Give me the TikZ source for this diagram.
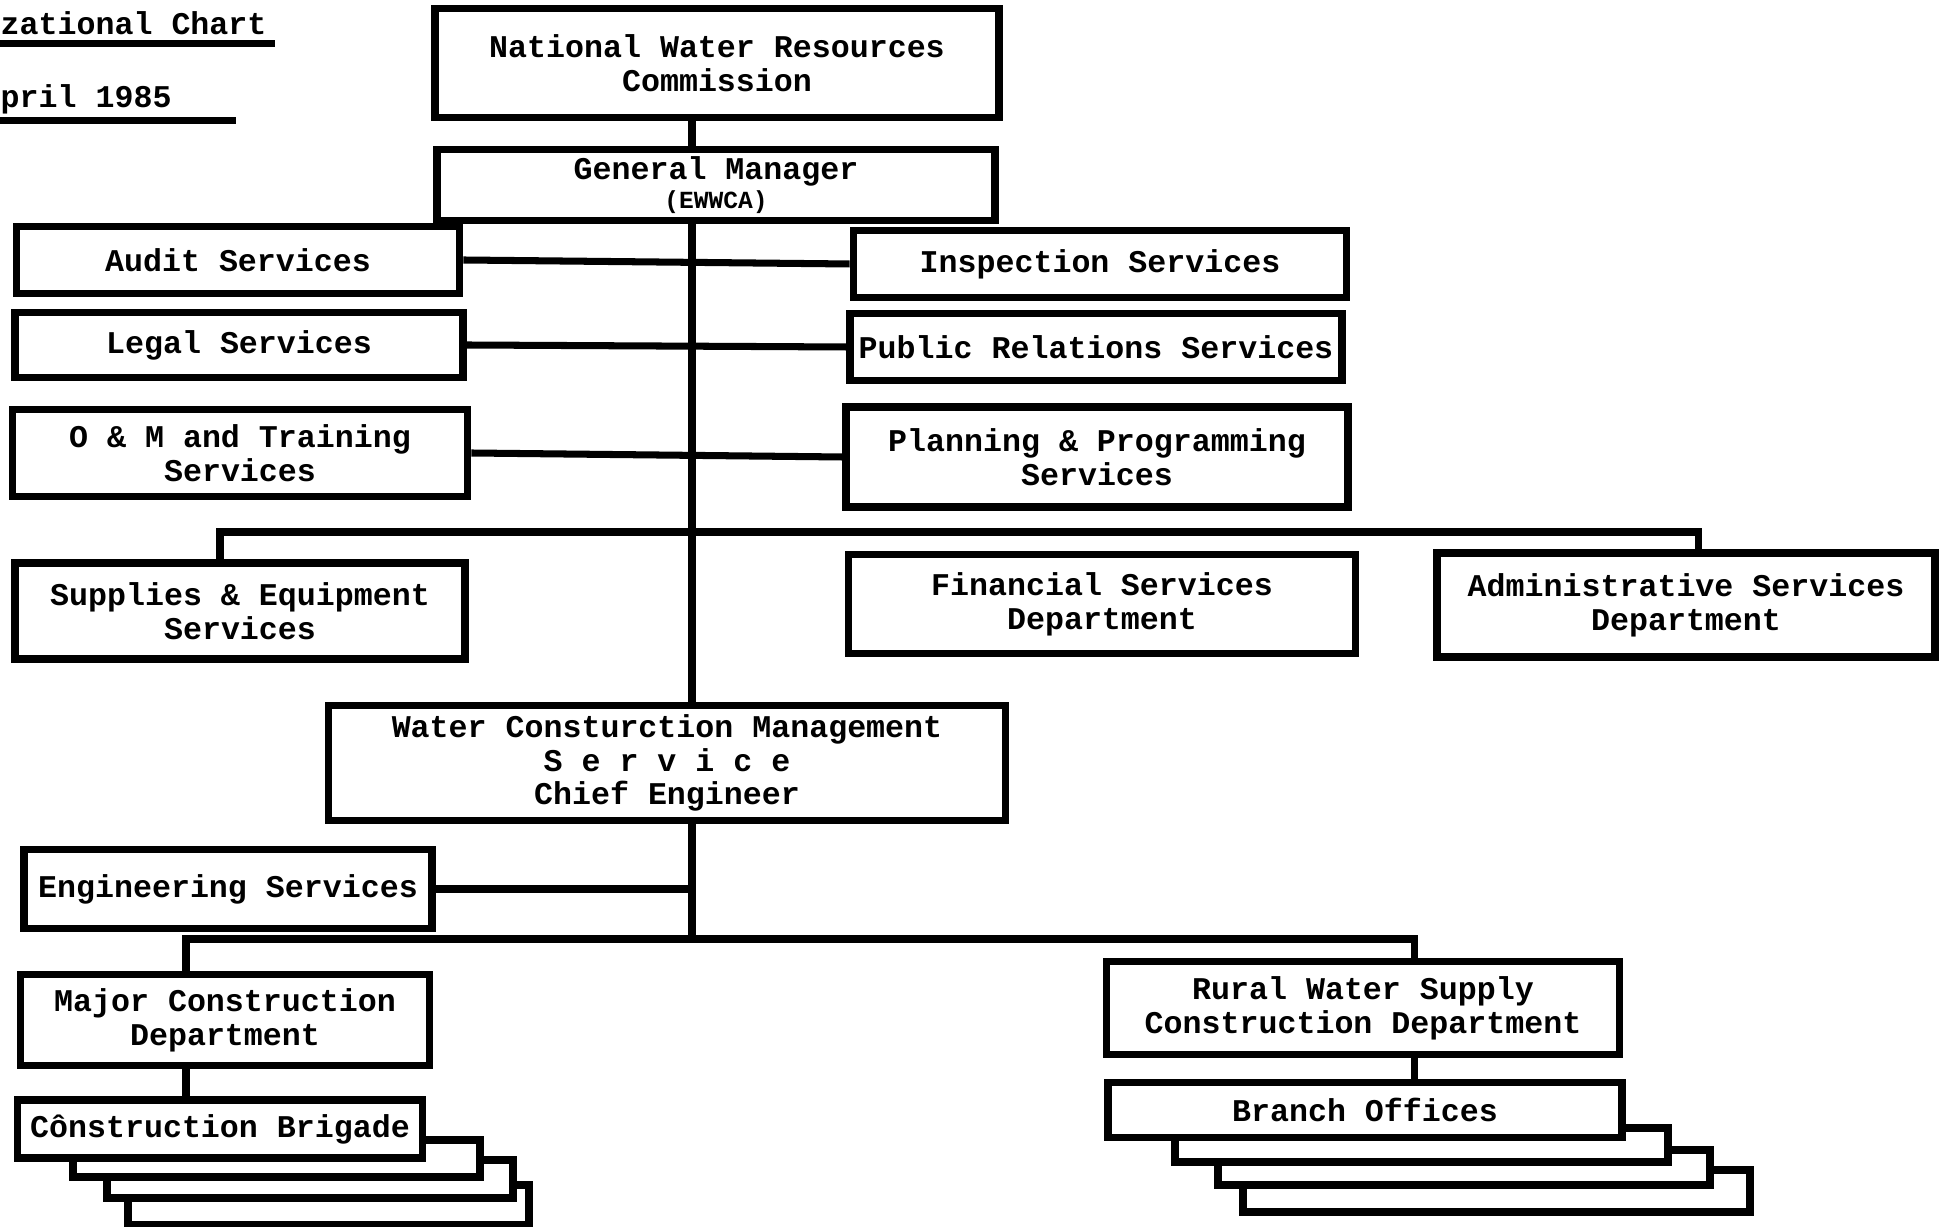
\documentclass[tikz,border=0pt]{standalone}
\usepackage{fontspec}
\setmainfont{Liberation Mono}
\tikzstyle{box}=[%
	draw, line width=2.2pt, fill=white, inner sep=0, align=center,
	font=\bfseries\fontsize{9}{9.6}\selectfont
]
\tikzstyle{wire}=[line width=2pt]
\tikzstyle{sheet}=[draw, line width=2.2pt, fill=white]

\begin{document}
\begin{tikzpicture}[x=0.1mm, y=-0.1mm]
	\useasboundingbox (0,0) rectangle (1950,1227);

	% heading, cut off at the left edge
	\node[anchor=base west, inner sep=0, font=\bfseries\fontsize{9}{9.6}\selectfont] (ttl) at (0,35) {zational Chart};
	\node[anchor=base west, inner sep=0, font=\bfseries\fontsize{9}{9.6}\selectfont] (dte) at (0,108) {pril 1985};
	\coordinate (u1) at (275,44);
	\coordinate (u2) at (236,121);
	\draw[wire] (ttl.west |- u1) -- (u1);
	\draw[wire] (dte.west |- u2) -- (u2);

	\node[box, minimum width=56.4mm, minimum height=10.9mm] (nwrc) at (717,63) {National Water Resources\\Commission};
	\node[box, minimum width=55.8mm, minimum height=7.1mm] (gm) at (716,185) {General Manager\\[-1.5pt]{\fontsize{7}{7}\selectfont(EWWCA)}};

	\node[box, minimum width=44.3mm, minimum height=6.7mm] (audit) at (238,260) {Audit Services};
	\node[box, minimum width=49.3mm, minimum height=6.7mm] (insp) at (1100,264) {Inspection Services};
	\node[box, minimum width=44.8mm, minimum height=6.5mm] (legal) at (239,345) {Legal Services};
	\node[box, minimum width=49.2mm, minimum height=6.7mm] (pr) at (1096,347) {Public Relations Services};
	\node[box, minimum width=45.5mm, minimum height=8.7mm] (om) at (240,453) {O \& M and Training\\Services};
	\node[box, minimum width=50.2mm, minimum height=10mm] (plan) at (1097,457) {Planning \& Programming\\Services};

	\node[box, minimum width=45mm, minimum height=9.6mm] (supp) at (240,611) {Supplies \& Equipment\\Services};
	\node[box, minimum width=50.7mm, minimum height=9.9mm] (fin) at (1102,604) {Financial Services\\Department};
	\node[box, minimum width=49.8mm, minimum height=10.4mm] (admin) at (1686,605) {Administrative Services\\Department};

	\node[box, minimum width=67.7mm, minimum height=11.5mm] (wc) at (667,763) {Water Consturction Management\\S e r v i c e\\Chief Engineer};
	\node[box, minimum width=40.8mm, minimum height=7.9mm] (eng) at (228,889) {Engineering Services};

	\node[box, minimum width=40.9mm, minimum height=9.1mm] (mcd) at (225,1020) {Major Construction\\Department};
	\node[box, minimum width=51.3mm, minimum height=9.3mm] (rws) at (1363,1008) {Rural Water Supply\\Construction Department};

	% stacked sheets behind the brigades and offices
	\draw[sheet] (128,1185) rectangle (529,1225);
	\draw[sheet] (107,1160) rectangle (513,1198);
	\draw[sheet] (73,1140) rectangle (480,1177);
	\node[box, minimum width=40.5mm, minimum height=5.8mm] (cb) at (220,1129) {Cônstruction Brigade};

	\draw[sheet] (1243,1170) rectangle (1750,1212);
	\draw[sheet] (1218,1150) rectangle (1710,1185);
	\draw[sheet] (1175,1128) rectangle (1668,1162);
	\node[box, minimum width=51.4mm, minimum height=5.5mm] (bo) at (1365,1110) {Branch Offices};

	% spine
	\coordinate (sp) at (692,220);
	\draw[wire] (nwrc.south -| sp) -- (gm.north -| sp);
	\draw[wire] (gm.south -| sp) -- (wc.north -| sp);

	\draw[wire] (audit.east) -- (insp.west);
	\draw[wire] (legal.east) -- (pr.west);
	\draw[wire] (om.east) -- (plan.west);

	\coordinate (busL) at (220,532);
	\coordinate (busR) at (1698,532);
	\draw[wire] (supp.north -| busL) -- (busL) -- (busR) -- (admin.north -| busR);

	\coordinate (lbL) at (186,939);
	\coordinate (lbR) at (1414,939);
	\draw[wire] (wc.south -| sp) -- (lbL -| sp);
	\draw[wire] (eng.east) -- (eng.east -| sp);
	\draw[wire] (mcd.north -| lbL) -- (lbL) -- (lbR) -- (rws.north -| lbR);
	\draw[wire] (mcd.south -| lbL) -- (cb.north -| lbL);
	\draw[wire] (rws.south -| lbR) -- (bo.north -| lbR);
\end{tikzpicture}
\end{document}
